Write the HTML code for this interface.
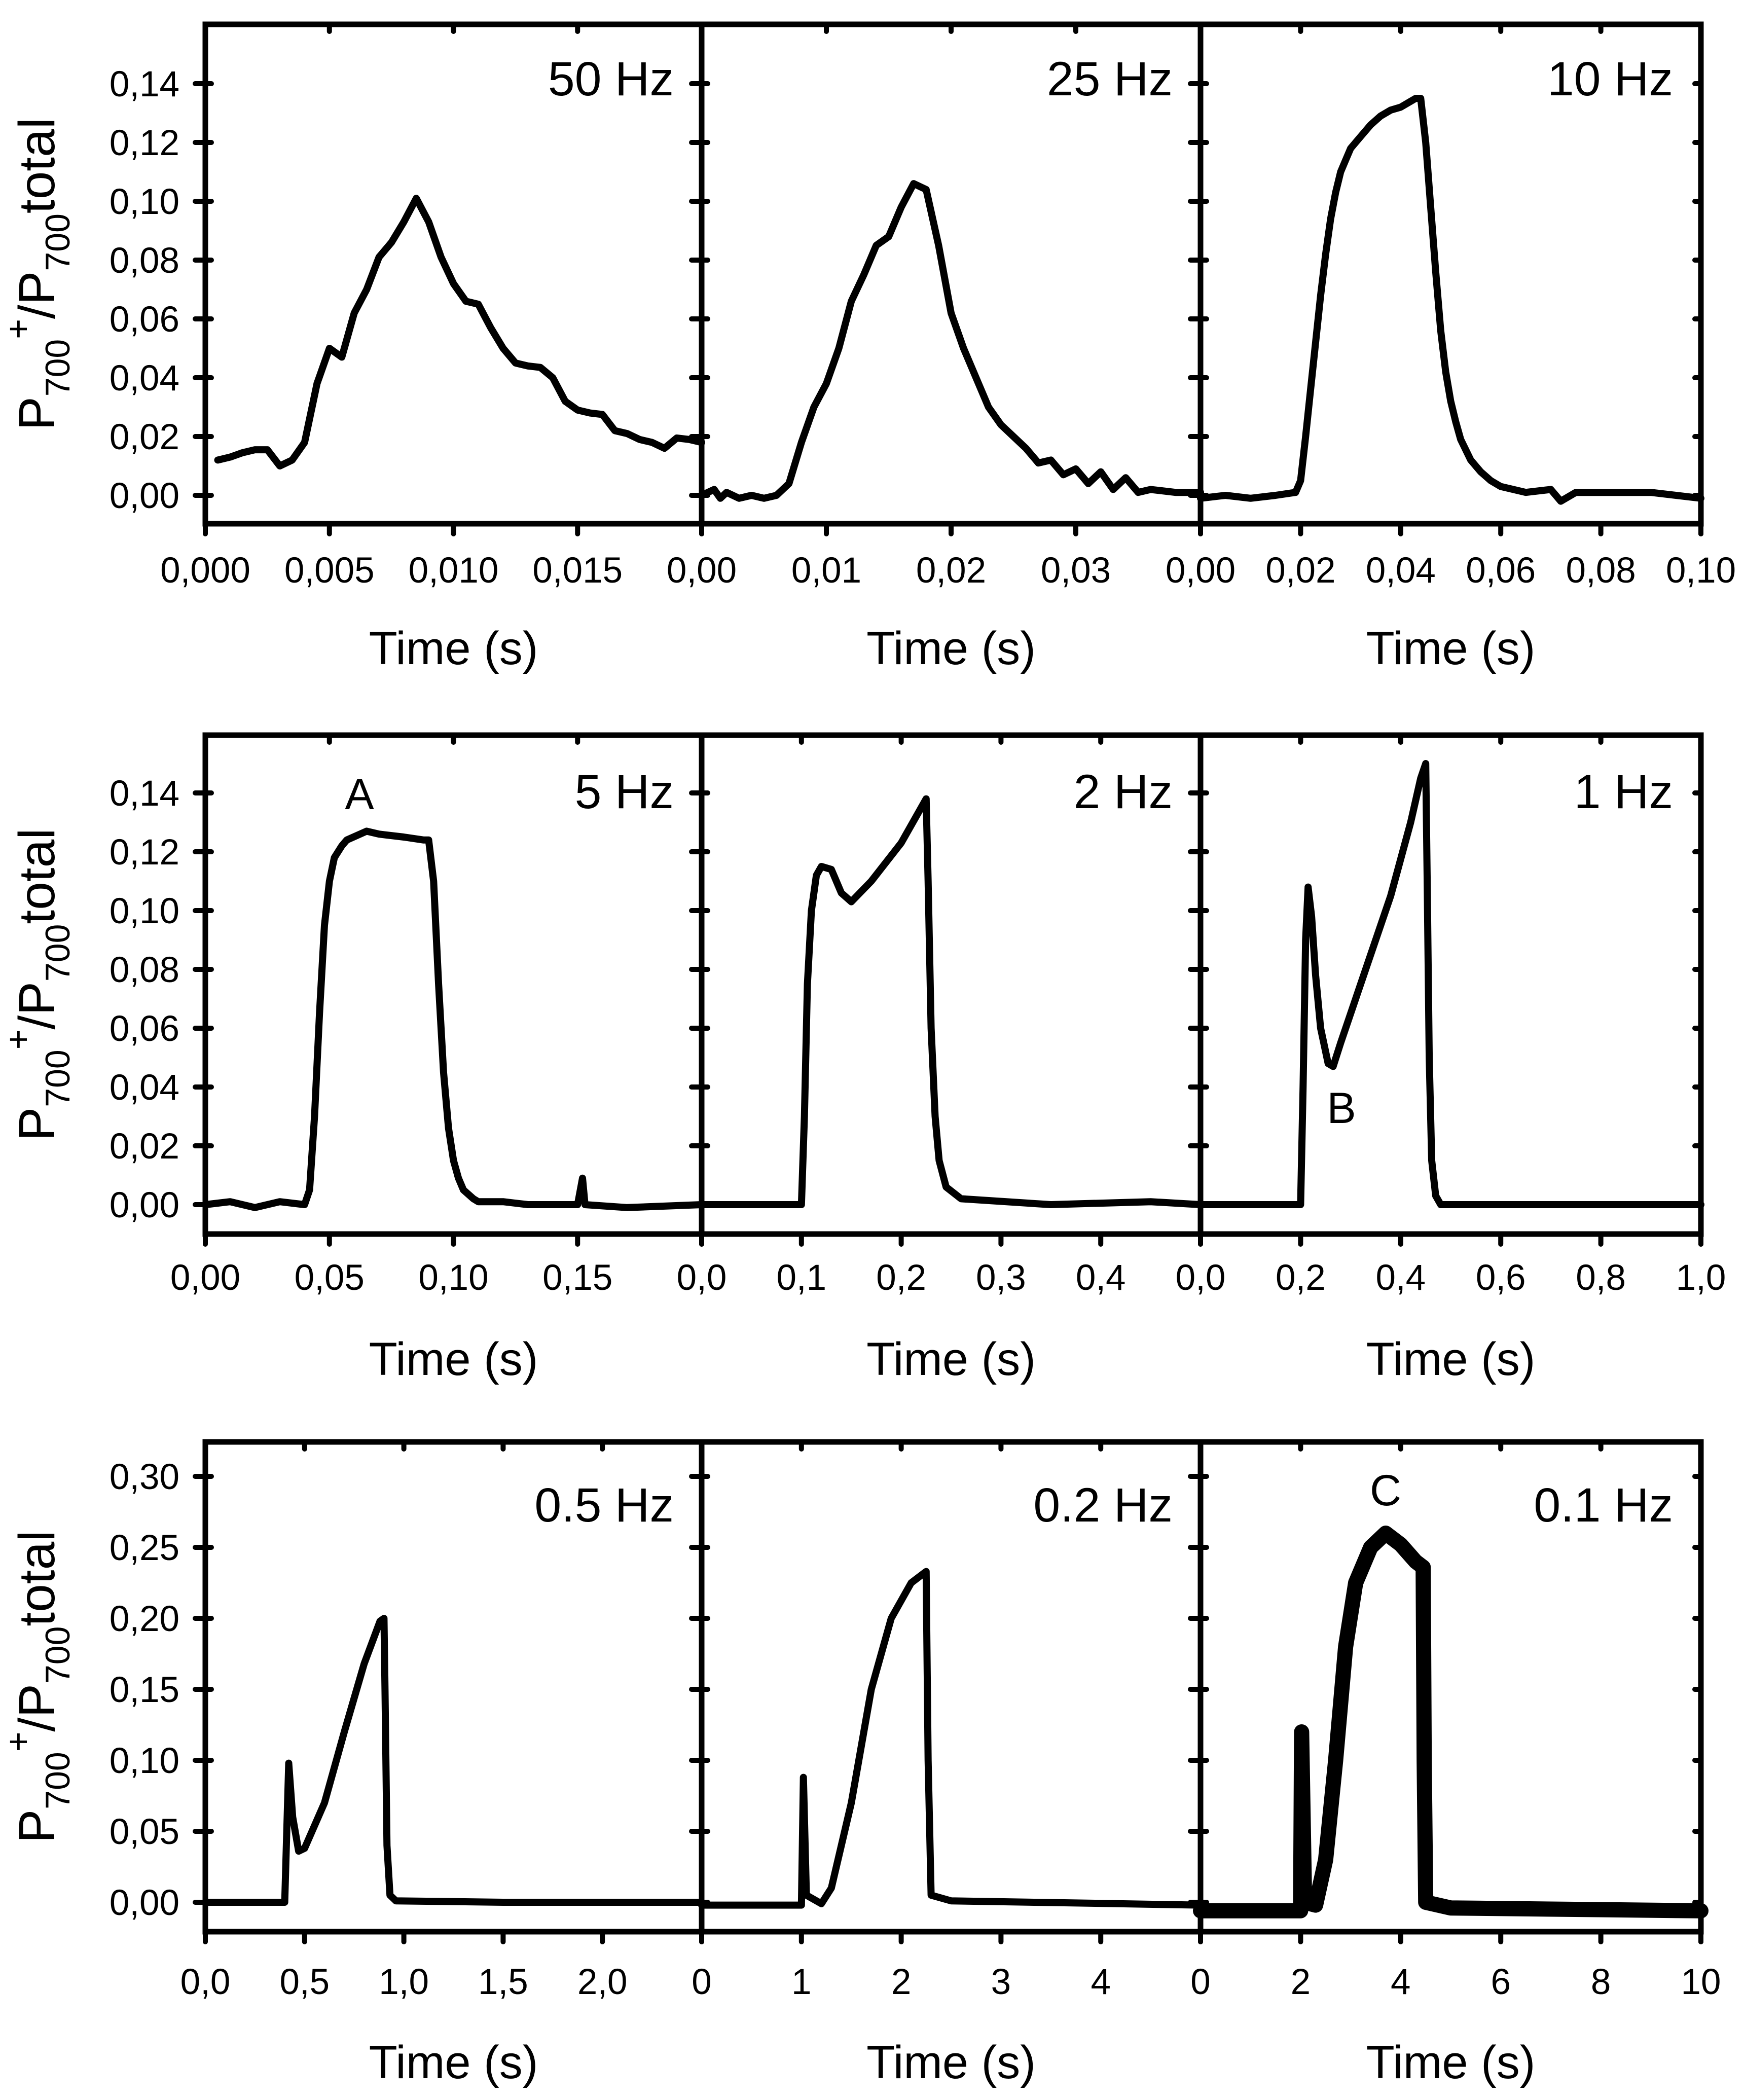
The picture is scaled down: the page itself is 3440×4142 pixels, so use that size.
<!DOCTYPE html>
<html><head><meta charset="utf-8">
<style>
html,body{margin:0;padding:0;background:#fff;}
svg{display:block;font-family:"Liberation Sans",Arial,sans-serif;}
</style></head>
<body>
<svg id="fig" width="3440" height="4142" viewBox="0 0 3440 4142" xmlns="http://www.w3.org/2000/svg">
<rect width="3440" height="4142" fill="#fff"/>
</svg>
<script>
// ---------- data ----------
const freqLabels = ["50 Hz","25 Hz","10 Hz","5 Hz","2 Hz","1 Hz","0.5 Hz","0.2 Hz","0.1 Hz"];
const xMax = [0.020,0.04,0.10,0.20,0.5,1.0,2.5,5,10];
const xTickVals = [
 [0,0.005,0.010,0.015],[0,0.01,0.02,0.03],[0,0.02,0.04,0.06,0.08,0.10],
 [0,0.05,0.10,0.15],[0,0.1,0.2,0.3,0.4],[0,0.2,0.4,0.6,0.8,1.0],
 [0,0.5,1.0,1.5,2.0],[0,1,2,3,4],[0,2,4,6,8,10]];
const xTickLabels = [
 ["0,000","0,005","0,010","0,015"],["0,00","0,01","0,02","0,03"],["0,00","0,02","0,04","0,06","0,08","0,10"],
 ["0,00","0,05","0,10","0,15"],["0,0","0,1","0,2","0,3","0,4"],["0,0","0,2","0,4","0,6","0,8","1,0"],
 ["0,0","0,5","1,0","1,5","2,0"],["0","1","2","3","4"],["0","2","4","6","8","10"]];
const yTickVals12 = [0,0.02,0.04,0.06,0.08,0.10,0.12,0.14];
const yTickLabels12 = ["0,00","0,02","0,04","0,06","0,08","0,10","0,12","0,14"];
const yTickVals3 = [0,0.05,0.10,0.15,0.20,0.25,0.30];
const yTickLabels3 = ["0,00","0,05","0,10","0,15","0,20","0,25","0,30"];

const s50x = [0.0005,0.001,0.0015,0.002,0.0025,0.003,0.0035,0.004,0.0045,0.005,0.0055,0.006,0.0065,0.007,0.0075,0.008,0.0085,0.009,0.0095,0.010,0.0105,0.011,0.0115,0.012,0.0125,0.013,0.0135,0.014,0.0145,0.015,0.0155,0.016,0.0165,0.017,0.0175,0.018,0.0185,0.019,0.0195,0.020];
const s50y = [0.012,0.013,0.0145,0.0155,0.0155,0.010,0.012,0.018,0.038,0.050,0.047,0.062,0.070,0.081,0.086,0.093,0.101,0.093,0.081,0.072,0.066,0.065,0.057,0.050,0.045,0.044,0.0435,0.040,0.032,0.029,0.028,0.0275,0.022,0.021,0.019,0.018,0.016,0.0195,0.019,0.018];
const s25x = [0,0.001,0.0015,0.002,0.003,0.004,0.005,0.006,0.007,0.008,0.009,0.010,0.011,0.012,0.013,0.014,0.015,0.016,0.017,0.018,0.019,0.020,0.021,0.022,0.023,0.024,0.025,0.026,0.027,0.028,0.029,0.030,0.031,0.032,0.033,0.034,0.035,0.036,0.038,0.040];
const s25y = [0,0.002,-0.001,0.001,-0.001,0,-0.001,0,0.004,0.018,0.030,0.038,0.050,0.066,0.075,0.085,0.088,0.098,0.106,0.104,0.085,0.062,0.050,0.040,0.030,0.024,0.020,0.016,0.011,0.012,0.007,0.009,0.004,0.008,0.002,0.006,0.001,0.002,0.001,0.001];
const s10x = [0,0.005,0.01,0.015,0.019,0.020,0.021,0.022,0.023,0.024,0.025,0.026,0.027,0.028,0.029,0.030,0.032,0.034,0.036,0.038,0.040,0.042,0.043,0.044,0.045,0.046,0.047,0.048,0.049,0.050,0.051,0.052,0.054,0.056,0.058,0.060,0.065,0.070,0.072,0.075,0.080,0.09,0.1];
const s10y = [-0.001,0,-0.001,0,0.001,0.005,0.020,0.036,0.052,0.068,0.082,0.094,0.103,0.110,0.114,0.118,0.122,0.126,0.129,0.131,0.132,0.134,0.135,0.135,0.120,0.098,0.076,0.056,0.042,0.032,0.025,0.019,0.012,0.008,0.005,0.003,0.001,0.002,-0.002,0.001,0.001,0.001,-0.001];
const s5x = [0,0.01,0.02,0.03,0.04,0.042,0.044,0.046,0.048,0.050,0.052,0.055,0.057,0.065,0.07,0.08,0.088,0.09,0.092,0.094,0.096,0.098,0.100,0.102,0.104,0.108,0.11,0.12,0.13,0.15,0.152,0.153,0.17,0.2];
const s5y = [0,0.001,-0.001,0.001,0,0.005,0.030,0.065,0.095,0.110,0.118,0.122,0.124,0.127,0.126,0.125,0.124,0.124,0.110,0.075,0.045,0.026,0.015,0.009,0.005,0.002,0.001,0.001,0,0,0.009,0,-0.001,0];
const s2x = [0,0.05,0.1,0.103,0.106,0.11,0.115,0.12,0.13,0.14,0.15,0.17,0.2,0.22,0.225,0.227,0.23,0.234,0.238,0.245,0.26,0.35,0.45,0.5];
const s2y = [0,0,0,0.030,0.075,0.100,0.112,0.115,0.114,0.106,0.103,0.110,0.123,0.135,0.138,0.110,0.060,0.030,0.015,0.006,0.002,0,0.001,0];
const s1x = [0,0.1,0.2,0.205,0.21,0.215,0.222,0.23,0.24,0.255,0.265,0.28,0.33,0.38,0.42,0.44,0.45,0.453,0.457,0.462,0.47,0.48,0.7,1.0];
const s1y = [0,0,0,0.040,0.090,0.108,0.098,0.078,0.060,0.048,0.047,0.055,0.080,0.105,0.130,0.145,0.150,0.110,0.050,0.015,0.003,0,0,0];
const s05x = [0,0.4,0.42,0.44,0.47,0.5,0.6,0.7,0.8,0.88,0.9,0.905,0.915,0.93,0.96,1.5,2.5];
const s05y = [0,0,0.098,0.060,0.036,0.038,0.070,0.120,0.168,0.198,0.200,0.150,0.040,0.005,0.001,0,0];
const s02x = [0,1.0,1.02,1.05,1.2,1.3,1.5,1.7,1.9,2.1,2.25,2.27,2.3,2.5,5];
const s02y = [-0.002,-0.002,0.088,0.005,-0.001,0.010,0.070,0.150,0.200,0.225,0.233,0.100,0.005,0.001,-0.002];
const s01x = [0,2.0,2.02,2.08,2.3,2.5,2.7,2.9,3.1,3.4,3.7,4.0,4.3,4.45,4.47,4.5,5,10];
const s01y = [-0.006,-0.006,0.12,0.0,-0.002,0.03,0.10,0.18,0.225,0.250,0.260,0.252,0.240,0.236,0.10,0.0,-0.004,-0.006];

const seriesX = [s50x,s25x,s10x,s5x,s2x,s1x,s05x,s02x,s01x];
const seriesY = [s50y,s25y,s10y,s5y,s2y,s1y,s05y,s02y,s01y];

// ---------- layout ----------
const NS="http://www.w3.org/2000/svg";
const svg=document.getElementById('fig');
const colX=[405,1384,2368,3355];
const rows=[
 {top:48,bot:1033,y0:977,yStep:116/0.02,tick:1124,title:1278,lab:190,ticksV:yTickVals12,ticksL:yTickLabels12},
 {top:1450,bot:2434,y0:2376,yStep:116/0.02,tick:2519,title:2680,lab:1596,ticksV:yTickVals12,ticksL:yTickLabels12},
 {top:2844,bot:3810,y0:3752,yStep:140/0.05,tick:3908,title:4067,lab:3003,ticksV:yTickVals3,ticksL:yTickLabels3}];
function mk(tag,attrs,parent){const e=document.createElementNS(NS,tag);for(const k in attrs)e.setAttribute(k,attrs[k]);(parent||svg).appendChild(e);return e;}

for(let r=0;r<3;r++){
 const R=rows[r];
 const yS=v=>R.y0-v*R.yStep;
 R.ticksV.forEach((v,i)=>{
  const t=mk('text',{x:354,y:yS(v)+25,'font-size':71,'text-anchor':'end'});
  
  
  t.textContent=R.ticksL[i];
 });
 const cy=(R.top+R.bot)/2;
 const g=mk('g',{transform:`translate(107,${cy}) rotate(-90)`});
 
 
 const tt=mk('text',{x:0,y:0,'font-size':100,'text-anchor':'middle'},g);
 tt.innerHTML='P<tspan font-size="68" dy="30">700</tspan><tspan font-size="68" dy="-78">+</tspan><tspan dy="48">/P</tspan><tspan font-size="68" dy="30">700</tspan><tspan dy="-30">total</tspan>';
 for(let c=0;c<3;c++){
  const p=r*3+c;
  const L=colX[c],Rx=colX[c+1];
  const xS=v=>L+v/xMax[p]*(Rx-L);
  const pg=mk('g',{});
  
  
  let d='';
  seriesX[p].forEach((x,i)=>{d+=(i?'L':'M')+xS(x).toFixed(1)+','+yS(seriesY[p][i]).toFixed(1);});
  const path=mk('path',{d:d,fill:'none',stroke:'#000','stroke-width':p===8?30:14,'stroke-linejoin':'round','stroke-linecap':'round'},pg);
  
  
  const fr=mk('rect',{x:L,y:R.top,width:Rx-L,height:R.bot-R.top,fill:'none',stroke:'#000','stroke-width':11},pg);
  
  
  R.ticksV.forEach(v=>{
   const y=yS(v);
   mk('line',{x1:L-20,x2:L+12,y1:y,y2:y,stroke:'#000','stroke-width':10,'stroke-linecap':'round'},pg);
   mk('line',{x1:Rx-12,x2:Rx,y1:y,y2:y,stroke:'#000','stroke-width':10,'stroke-linecap':'round'},pg);
  });
  xTickVals[p].forEach((v,i)=>{
   const x=xS(v);
   mk('line',{x1:x,x2:x,y1:R.bot,y2:R.bot+20,stroke:'#000','stroke-width':10,'stroke-linecap':'round'},pg);
   mk('line',{x1:x,x2:x,y1:R.top,y2:R.top+14,stroke:'#000','stroke-width':10,'stroke-linecap':'round'},pg);
   const tl=mk('text',{x:x,y:R.tick+25,'font-size':71,'text-anchor':'middle'},pg);
   
   
   tl.textContent=xTickLabels[p][i];
  });
  mk('line',{x1:Rx,x2:Rx,y1:R.bot,y2:R.bot+20,stroke:'#000','stroke-width':10,'stroke-linecap':'round'},pg);
  const fl=mk('text',{x:Rx-55,y:R.lab-2,'font-size':95,'text-anchor':'end'},pg);
  
  
  fl.textContent=freqLabels[p];
  const xt=mk('text',{x:(L+Rx)/2,y:R.title+32,'font-size':92,'text-anchor':'middle'},pg);
  
  
  xt.textContent='Time (s)';
 }
}
[["A",709,1596],["B",2646,2215],["C",2733,2969]].forEach(a=>{
 const t=mk('text',{x:a[1],y:a[2],'font-size':86,'text-anchor':'middle'});
 
 
 t.textContent=a[0];
});
</script>
</body></html>
